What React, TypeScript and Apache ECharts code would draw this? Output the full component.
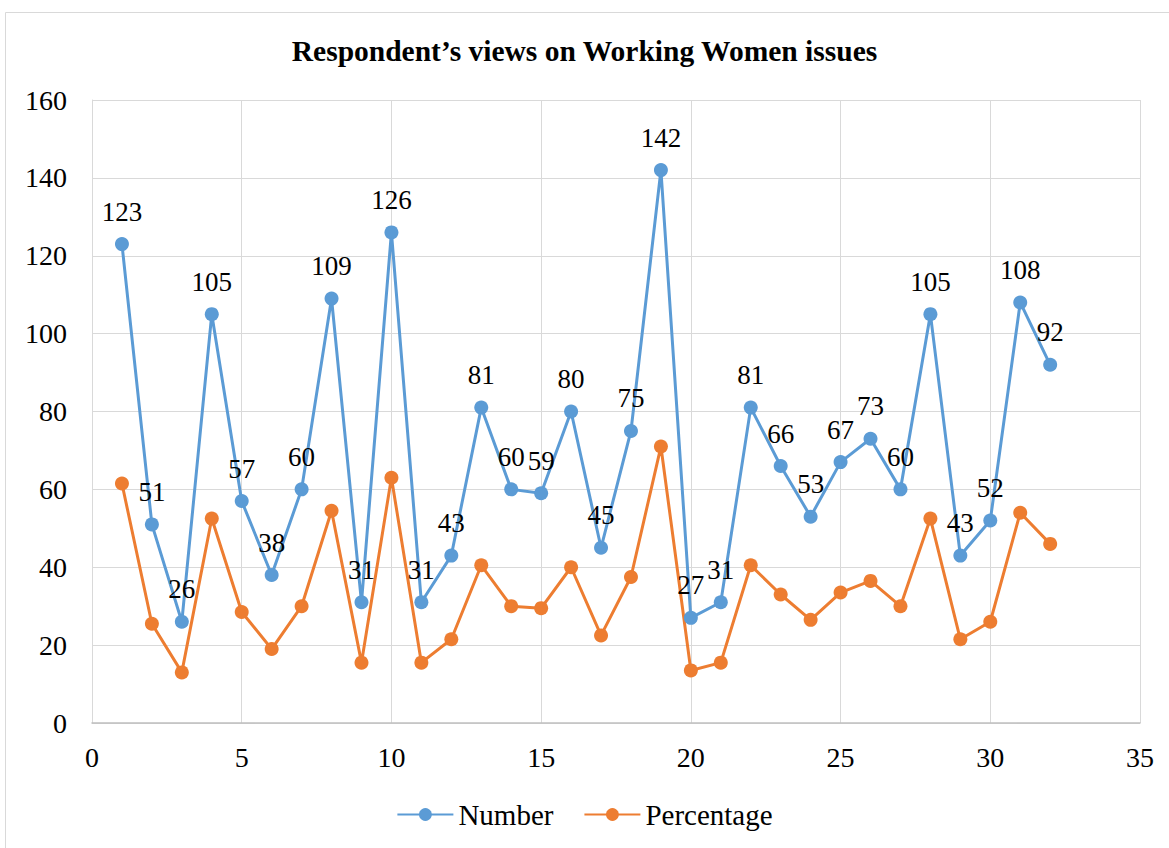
import React, { useEffect, useRef } from "react";
import * as echarts from "echarts";

const xValues = [1,2,3,4,5,6,7,8,9,10,11,12,13,14,15,16,17,18,19,20,21,22,23,24,25,26,27,28,29,30,31,32];
const numberValues = [123,51,26,105,57,38,60,109,31,126,31,43,81,60,59,80,45,75,142,27,31,81,66,53,67,73,60,105,43,52,108,92];
const percentageValues = [61.5,25.5,13,52.5,28.5,19,30,54.5,15.5,63,15.5,21.5,40.5,30,29.5,40,22.5,37.5,71,13.5,15.5,40.5,33,26.5,33.5,36.5,30,52.5,21.5,26,54,46];

const FONT = "Liberation Serif, Times New Roman, serif";

export default function App() {
  const ref = useRef<HTMLDivElement>(null);
  useEffect(() => {
    if (!ref.current) return;
    const chart = echarts.init(ref.current, undefined, { renderer: "svg" });
    chart.setOption({
      animation: false,
      backgroundColor: "#ffffff",
      textStyle: { fontFamily: FONT },
      title: {
        text: "Respondent\u2019s views on Working Women issues",
        left: "center",
        top: 31,
        textStyle: { fontFamily: FONT, fontSize: 29.5, fontWeight: "bold", color: "#000" },
      },
      graphic: [
        {
          type: "rect",
          shape: { x: 5.5, y: 12.5, width: 1200, height: 900 },
          style: { fill: "none", stroke: "#d9d9d9", lineWidth: 1 },
          silent: true,
        },
      ],
      legend: {
        bottom: 14,
        left: "center",
        itemWidth: 56,
        itemHeight: 16,
        itemGap: 30,
        textStyle: { fontFamily: FONT, fontSize: 29, color: "#000" },
        data: ["Number", "Percentage"],
      },
      grid: { left: 92, right: 29, top: 100, bottom: 125, containLabel: false },
      xAxis: {
        type: "value",
        min: 0,
        max: 35,
        interval: 5,
        axisLine: { show: true, lineStyle: { color: "#bfbfbf", width: 1.5 } },
        axisTick: { show: false },
        splitLine: { show: true, lineStyle: { color: "#d9d9d9", width: 1 } },
        axisLabel: { fontFamily: FONT, fontSize: 28, color: "#000", margin: 20 },
      },
      yAxis: {
        type: "value",
        min: 0,
        max: 160,
        interval: 20,
        axisLine: { show: true, lineStyle: { color: "#d9d9d9", width: 1 } },
        axisTick: { show: false },
        splitLine: { show: true, lineStyle: { color: "#d9d9d9", width: 1 } },
        axisLabel: { fontFamily: FONT, fontSize: 28, color: "#000", margin: 25 },
      },
      series: [
        {
          name: "Number",
          type: "line",
          data: xValues.map((x, i) => [x, numberValues[i]]),
          symbol: "circle",
          symbolSize: 14,
          lineStyle: { color: "#5b9bd5", width: 3 },
          itemStyle: { color: "#5b9bd5" },
          label: {
            show: true,
            position: "top",
            distance: 12,
            fontFamily: FONT,
            fontSize: 27,
            color: "#000",
            formatter: (p: any) => String(p.value[1]),
          },
          z: 3,
        },
        {
          name: "Percentage",
          type: "line",
          data: xValues.map((x, i) => [x, percentageValues[i]]),
          symbol: "circle",
          symbolSize: 14,
          lineStyle: { color: "#ed7d31", width: 3 },
          itemStyle: { color: "#ed7d31" },
          z: 2,
        },
      ],
    });
    return () => chart.dispose();
  }, []);
  return (
    <div
      ref={ref}
      style={{ position: "fixed", left: 0, top: 0, width: 1169, height: 848 }}
    />
  );
}
